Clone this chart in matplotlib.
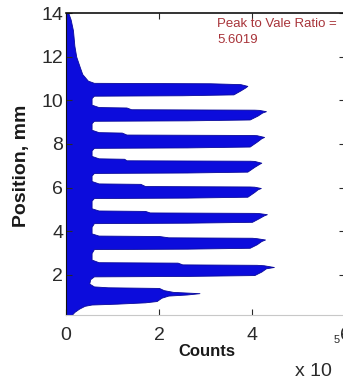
import matplotlib
matplotlib.use("Agg")
import matplotlib.pyplot as plt

plt.rcParams['font.family'] = ['Liberation Sans', 'DejaVu Sans']

position = [0.16, 0.30, 0.45, 0.58, 0.64,
            0.68, 0.74, 0.80, 0.95, 1.05, 1.10, 1.16, 1.22, 1.30, 1.40, 1.43, 1.47,
            1.60, 1.80,
            1.93, 1.95, 1.99, 2.15, 2.30, 2.36, 2.44, 2.46, 2.48, 2.56, 2.58,
            2.70, 3.00,
            3.18, 3.20, 3.24, 3.40, 3.55, 3.62, 3.68, 3.70, 3.72, 3.78, 3.80,
            3.90, 4.20,
            4.37, 4.39, 4.43, 4.60, 4.72, 4.78, 4.83, 4.84, 4.86, 4.93, 4.95,
            5.05, 5.40,
            5.52, 5.54, 5.58, 5.80, 5.92, 5.98, 6.04, 6.05, 6.07, 6.17, 6.19,
            6.30, 6.55,
            6.67, 6.69, 6.73, 6.95, 7.08, 7.14, 7.22, 7.23, 7.25, 7.32, 7.34,
            7.45, 7.70,
            7.82, 7.84, 7.88, 8.10, 8.26, 8.32, 8.40, 8.41, 8.43, 8.52, 8.54,
            8.65, 8.95,
            9.06, 9.08, 9.12, 9.30, 9.44, 9.50, 9.56, 9.57, 9.59, 9.67, 9.69,
            9.80, 10.10,
            10.21, 10.23, 10.27, 10.45, 10.58, 10.66, 10.74, 10.78, 10.80,
            10.90, 11.20, 11.50, 12.00, 12.50, 13.20, 13.70, 14.00]
counts = [0.12, 0.18, 0.28, 0.40, 0.55,
          1.10, 1.70, 1.95, 2.05, 2.20, 2.60, 2.87, 2.30, 2.10, 2.00, 0.90, 0.60,
          0.50, 0.52,
          0.60, 2.60, 4.05, 4.20, 4.30, 4.47, 4.25, 4.10, 2.50, 2.40, 0.70,
          0.55, 0.55,
          0.60, 2.60, 3.95, 4.10, 4.20, 4.28, 4.10, 4.00, 2.20, 2.00, 0.70,
          0.55, 0.55,
          0.60, 2.60, 4.00, 4.15, 4.25, 4.32, 4.15, 4.05, 1.80, 1.70, 0.70,
          0.55, 0.55,
          0.60, 2.60, 3.90, 4.05, 4.12, 4.19, 4.05, 3.95, 1.70, 1.60, 0.70,
          0.55, 0.55,
          0.60, 2.60, 3.90, 4.05, 4.15, 4.20, 4.05, 3.95, 1.30, 1.25, 0.70,
          0.55, 0.55,
          0.60, 2.60, 3.95, 4.10, 4.20, 4.26, 4.10, 4.00, 1.30, 1.20, 0.70,
          0.55, 0.55,
          0.60, 2.60, 3.95, 4.12, 4.22, 4.30, 4.15, 4.05, 1.40, 1.30, 0.70,
          0.55, 0.55,
          0.60, 2.50, 3.60, 3.75, 3.85, 3.90, 3.75, 3.10, 0.60,
          0.47, 0.35, 0.30, 0.22, 0.18, 0.15, 0.10, 0.05]

x_ticks = [0, 2, 4, 6]
y_ticks = [2, 4, 6, 8, 10, 12, 14]
ratio_label = "Peak to Vale Ratio =\n5.6019"

W, H = 343, 382
fig = plt.figure(figsize=(W / 100, H / 100), dpi=100)
ax = fig.add_axes([66 / W, 1 - 315 / H, (345 - 66) / W, (315 - 13) / H])

ax.fill_betweenx(position, 0, counts, facecolor='#0c0cdc', edgecolor='#0a0a9a', linewidth=0.6)

ax.set_xlim(0, 6)
ax.set_ylim(0.16, 14)
ax.set_xticks(x_ticks)
ax.set_yticks(y_ticks)
ax.tick_params(direction='in', length=4, width=0.8, labelsize=14, colors='#2a2a2a',
               top=True, right=True)
ax.tick_params(axis='x', pad=9)
ax.tick_params(axis='y', pad=2)
ax.spines['top'].set_color('#111111')
ax.spines['top'].set_linewidth(1.2)
ax.spines['bottom'].set_color('#c8c8c8')
ax.spines['left'].set_color('#111111')

fig.text(22 / W, 1 - 166 / H, 'Position, mm', rotation=90, ha='center', va='center',
         fontsize=14, fontweight='bold', color='#1a1a1a')
fig.text(207 / W, 1 - 352 / H, 'Counts', ha='center', va='center',
         fontsize=12, fontweight='bold', color='#1a1a1a')
fig.text(313 / W, 1 - 372 / H, 'x 10', ha='center', va='center',
         fontsize=14, color='#2a2a2a')
fig.text(337 / W, 1 - 340 / H, '5', ha='center', va='center',
         fontsize=8, color='#2a2a2a')
fig.text(217 / W, 1 - 18 / H, ratio_label, ha='left', va='top',
         fontsize=9.5, color='#a8343a', linespacing=1.45)

fig.savefig('out.png', dpi=100)
